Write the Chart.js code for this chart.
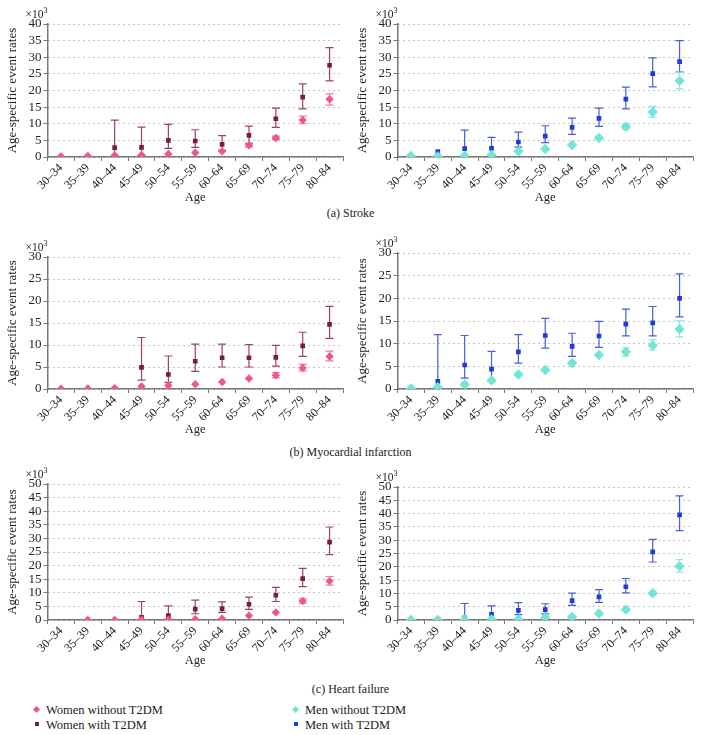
<!DOCTYPE html>
<html>
<head>
<meta charset="utf-8">
<script src="https://cdn.jsdelivr.net/npm/chart.js@4/dist/chart.umd.min.js"></script>
<style>
  html, body { margin: 0; padding: 0; background: #fff; }
  #wrap { position: relative; width: 701px; height: 735px; overflow: hidden; font-family: "Liberation Serif", "DejaVu Serif", serif; color: #222; }
  canvas { position: absolute; }
  .cap { position: absolute; width: 701px; left: 0; text-align: center; font-size: 12px; line-height: 14px; }
  .leg { position: absolute; font-size: 12.5px; line-height: 14px; white-space: nowrap; }
  .mk { position: absolute; }
</style>
</head>
<body>
<div id="wrap">
  <canvas id="c1" width="350" height="205" style="left:0;top:0"></canvas>
  <canvas id="c2" width="351" height="205" style="left:350px;top:0"></canvas>
  <canvas id="c3" width="350" height="204" style="left:0;top:233px"></canvas>
  <canvas id="c4" width="351" height="208" style="left:350px;top:229px"></canvas>
  <canvas id="c5" width="350" height="208" style="left:0;top:460px"></canvas>
  <canvas id="c6" width="351" height="205" style="left:350px;top:463px"></canvas>
  <div class="cap" style="top:206px">(a) Stroke</div>
  <div class="cap" style="top:445px">(b) Myocardial infarction</div>
  <div class="cap" style="top:682px">(c) Heart failure</div>

  <div class="mk" style="left:34px;top:707px;width:5px;height:5px;background:#f0568e;transform:rotate(45deg)"></div>
  <div class="leg" style="left:46px;top:703px">Women without T2DM</div>
  <div class="mk" style="left:35px;top:722px;width:4px;height:4px;background:#7a1c3c"></div>
  <div class="leg" style="left:46px;top:718px">Women with T2DM</div>
  <div class="mk" style="left:293px;top:707px;width:5px;height:5px;background:#72e5d5;transform:rotate(45deg)"></div>
  <div class="leg" style="left:305px;top:703px">Men without T2DM</div>
  <div class="mk" style="left:294px;top:722px;width:4px;height:4px;background:#1c3ddc"></div>
  <div class="leg" style="left:305px;top:718px">Men with T2DM</div>
</div>
<script>
// ---------- categories ----------
const ageGroups = ['30–34','35–39','40–44','45–49','50–54','55–59','60–64','65–69','70–74','75–79','80–84'];
const seriesNames = ['Women without T2DM','Women with T2DM','Men without T2DM','Men with T2DM'];
const yTicksStroke = [0,5,10,15,20,25,30,35,40];
const yTicksMI = [0,5,10,15,20,25,30];
const yTicksHF = [0,5,10,15,20,25,30,35,40,45,50];

// ---------- (a) Stroke ----------
const strokeWomenNo   = [0.2,0.3,0.5,0.6,0.9,1.3,1.7,3.5,5.7,11.1,17.4];
const strokeWomenNoLo = [null,null,null,null,null,null,null,3.0,5.2,10.0,15.6];
const strokeWomenNoHi = [null,null,null,null,null,null,null,4.2,6.3,12.3,19.0];
const strokeWomenT2   = [null,null,2.8,2.9,5.0,4.8,3.8,6.5,11.5,18.0,27.6];
const strokeWomenT2Lo = [null,null,0,0.5,2.6,2.9,2.0,4.0,8.9,14.5,22.9];
const strokeWomenT2Hi = [null,null,11.1,9.0,9.8,8.2,6.4,9.3,14.7,22.0,32.9];
const strokeMenNo     = [0.3,0.2,0.4,0.6,1.7,2.4,3.6,5.7,9.1,13.5,22.9];
const strokeMenNoLo   = [null,null,null,null,null,null,null,null,8.4,12.0,20.5];
const strokeMenNoHi   = [null,null,null,null,null,null,null,null,9.9,15.2,25.5];
const strokeMenT2     = [null,1.6,2.5,2.6,4.5,6.3,8.9,11.6,17.4,25.1,28.7];
const strokeMenT2Lo   = [null,null,0,0.5,3.0,4.3,6.8,9.2,14.5,21.1,25.6];
const strokeMenT2Hi   = [null,null,8.1,5.9,7.5,9.4,11.7,14.7,21.0,29.8,35.0];

// ---------- (b) Myocardial infarction ----------
const miWomenNo   = [0.05,0.1,0.2,0.6,0.8,1.1,1.6,2.4,3.1,4.8,7.4];
const miWomenNoLo = [null,null,null,null,null,null,null,null,2.6,4.1,6.4];
const miWomenNoHi = [null,null,null,null,null,null,null,null,3.7,5.6,8.6];
const miWomenT2   = [null,null,null,4.9,3.3,6.3,7.1,7.1,7.2,9.8,14.7];
const miWomenT2Lo = [null,null,null,2.0,1.5,4.0,5.0,5.0,5.2,7.4,11.5];
const miWomenT2Hi = [null,null,null,11.7,7.5,10.2,10.2,10.1,9.9,12.9,18.8];
const miMenNo     = [0.1,0.4,1.0,1.9,3.2,4.2,5.7,7.5,8.2,9.6,13.2];
const miMenNoLo   = [null,null,null,null,null,null,null,null,7.3,8.6,11.5];
const miMenNoHi   = [null,null,null,null,null,null,null,null,9.1,10.9,15.1];
const miMenT2     = [null,1.7,5.3,4.4,8.2,11.8,9.4,11.7,14.3,14.6,20.0];
const miMenT2Lo   = [null,0,2.4,1.8,5.7,9.0,7.2,9.2,11.7,11.7,15.9];
const miMenT2Hi   = [null,12.0,11.8,8.3,12.0,15.6,12.3,14.9,17.6,18.2,25.4];

// ---------- (c) Heart failure ----------
const hfWomenNo   = [null,0.05,0.05,0.1,0.15,0.3,0.5,1.6,2.8,7.0,14.3];
const hfWomenNoLo = [null,null,null,null,null,null,null,null,null,6.2,12.8];
const hfWomenNoHi = [null,null,null,null,null,null,null,null,null,7.8,16.0];
const hfWomenT2   = [null,null,null,1.0,1.6,4.0,4.2,5.8,9.1,15.2,28.6];
const hfWomenT2Lo = [null,null,null,0,0.2,2.3,2.8,3.9,6.8,12.3,24.0];
const hfWomenT2Hi = [null,null,null,6.8,5.2,7.3,6.7,8.4,12.0,19.0,34.2];
const hfMenNo     = [0.05,0.05,0.1,0.2,0.3,0.9,1.1,2.4,3.9,10.1,20.2];
const hfMenNoLo   = [null,null,null,null,null,null,null,null,null,9.3,18.0];
const hfMenNoHi   = [null,null,null,null,null,null,null,null,null,10.9,22.7];
const hfMenT2     = [null,null,0.8,2.1,3.6,3.9,7.3,8.7,12.5,25.6,39.5];
const hfMenT2Lo   = [null,null,0,0.5,2.0,2.3,5.5,6.6,10.2,21.8,33.6];
const hfMenT2Hi   = [null,null,6.2,5.3,6.5,6.1,10.1,11.4,15.6,30.3,46.7];

// ---------- styles ----------
const womenNoColor = '#f0568e', womenNoErr = '#f07aa5';
const womenT2Color = '#7a1c3c', womenT2Err = '#9a4464';
const menNoColor = '#72e5d5', menNoErr = '#8fe8dc';
const menT2Color = '#1c3ddc', menT2Err = '#4660d6';
const FONT = '"Liberation Serif", "Times New Roman", serif';

const errorBarPlugin = {
  id: 'errorBars',
  beforeDatasetsDraw(chart, args, opts) {
    const ctx = chart.ctx, xs = chart.scales.x, ys = chart.scales.y;
    (opts.sets || []).forEach(set => {
      ctx.save();
      ctx.strokeStyle = set.color;
      ctx.lineWidth = 1.2;
      set.lo.forEach((lo, i) => {
        const hi = set.hi[i];
        if (lo === null || hi === null) return;
        const x = xs.getPixelForValue(i);
        const yl = ys.getPixelForValue(lo), yh = ys.getPixelForValue(hi);
        ctx.beginPath();
        ctx.moveTo(x, yl); ctx.lineTo(x, yh);
        ctx.moveTo(x - 4, yh); ctx.lineTo(x + 4, yh);
        if (lo > 0.05) { ctx.moveTo(x - 4, yl); ctx.lineTo(x + 4, yl); }
        ctx.stroke();
      });
      ctx.restore();
    });
  },
  afterDraw(chart) {
    const ctx = chart.ctx, a = chart.chartArea;
    ctx.save();
    ctx.fillStyle = '#222';
    ctx.textAlign = 'right';
    ctx.textBaseline = 'alphabetic';
    ctx.font = '8px ' + FONT;
    const w3 = ctx.measureText('3').width;
    ctx.font = '11.5px ' + FONT;
    ctx.fillText('×10', a.left - w3, a.top - 6);
    ctx.font = '8px ' + FONT;
    ctx.fillText('3', a.left, a.top - 11);
    ctx.restore();
  }
};

function makePanel(id, noData, t2Data, noLo, noHi, t2Lo, t2Hi, yTicks, colors, names, padRight) {
  const yMax = yTicks[yTicks.length - 1];
  return new Chart(document.getElementById(id), {
    type: 'line',
    data: {
      labels: ageGroups,
      datasets: [
        { label: names[0], data: noData, showLine: false, pointStyle: 'rectRot',
          pointRadius: colors.noRadius, pointHoverRadius: colors.noRadius,
          backgroundColor: colors.no, borderColor: colors.no, borderWidth: 0 },
        { label: names[1], data: t2Data, showLine: false, pointStyle: 'rect',
          pointRadius: colors.t2Radius, pointHoverRadius: colors.t2Radius,
          backgroundColor: colors.t2, borderColor: colors.t2, borderWidth: 0 }
      ]
    },
    options: {
      responsive: false,
      animation: false,
      devicePixelRatio: 1,
      font: { family: FONT },
      layout: { padding: { top: 24, right: padRight, left: 0, bottom: 0 } },
      plugins: {
        legend: { display: false },
        tooltip: { enabled: false },
        errorBars: { sets: [
          { color: colors.t2Err, lo: t2Lo, hi: t2Hi },
          { color: colors.noErr, lo: noLo, hi: noHi }
        ] }
      },
      scales: {
        x: {
          type: 'category',
          offset: true,
          grid: { display: true, offset: true, drawOnChartArea: false, drawTicks: true, tickLength: 4, color: '#777', tickColor: '#777' },
          border: { display: true, color: '#777', width: 1.5 },
          ticks: { color: '#222', font: { family: FONT, size: 12 }, minRotation: 45, maxRotation: 45, padding: 0, autoSkip: false },
          title: { display: true, text: 'Age', color: '#222', font: { family: FONT, size: 12.5 }, padding: { top: 0, bottom: 0 } },
          afterFit: s => { s.height = 48; }
        },
        y: {
          min: 0, max: yMax,
          afterBuildTicks: s => { s.ticks = yTicks.map(v => ({ value: v })); },
          grid: { color: '#8a8a8a', lineWidth: 1, drawTicks: true, tickLength: 4, tickColor: '#777', tickBorderDash: [] },
          border: { display: true, color: '#777', width: 1.5, dash: [1, 4] },
          ticks: { color: '#222', font: { family: FONT, size: 13 }, padding: 2, autoSkip: false },
          title: { display: true, text: 'Age-specific event rates', color: '#222', font: { family: FONT, size: 13 }, padding: { top: 5, bottom: 0 } },
          afterFit: s => { s.width = 47.5; }
        }
      }
    },
    plugins: [errorBarPlugin]
  });
}

function drawAll() {
  Chart.defaults.font.family = FONT;
  const women = { no: womenNoColor, t2: womenT2Color, noErr: womenNoErr, t2Err: womenT2Err, noRadius: 4.2, t2Radius: 3.3 };
  const men = { no: menNoColor, t2: menT2Color, noErr: menNoErr, t2Err: menT2Err, noRadius: 5.2, t2Radius: 3.3 };
  const wNames = [seriesNames[0], seriesNames[1]];
  const mNames = [seriesNames[2], seriesNames[3]];
  makePanel('c1', strokeWomenNo, strokeWomenT2, strokeWomenNoLo, strokeWomenNoHi, strokeWomenT2Lo, strokeWomenT2Hi, yTicksStroke, women, wNames, 7);
  makePanel('c2', strokeMenNo, strokeMenT2, strokeMenNoLo, strokeMenNoHi, strokeMenT2Lo, strokeMenT2Hi, yTicksStroke, men, mNames, 8);
  makePanel('c3', miWomenNo, miWomenT2, miWomenNoLo, miWomenNoHi, miWomenT2Lo, miWomenT2Hi, yTicksMI, women, wNames, 7);
  makePanel('c4', miMenNo, miMenT2, miMenNoLo, miMenNoHi, miMenT2Lo, miMenT2Hi, yTicksMI, men, mNames, 8);
  makePanel('c5', hfWomenNo, hfWomenT2, hfWomenNoLo, hfWomenNoHi, hfWomenT2Lo, hfWomenT2Hi, yTicksHF, women, wNames, 7);
  makePanel('c6', hfMenNo, hfMenT2, hfMenNoLo, hfMenNoHi, hfMenT2Lo, hfMenT2Hi, yTicksHF, men, mNames, 8);
}

let drawn = false;
function go() { if (!drawn) { drawn = true; drawAll(); } }
if (document.fonts && document.fonts.load) {
  document.fonts.load('12px "Liberation Serif"').then(go, go);
  setTimeout(go, 300);
} else {
  go();
}
</script>
</body>
</html>
